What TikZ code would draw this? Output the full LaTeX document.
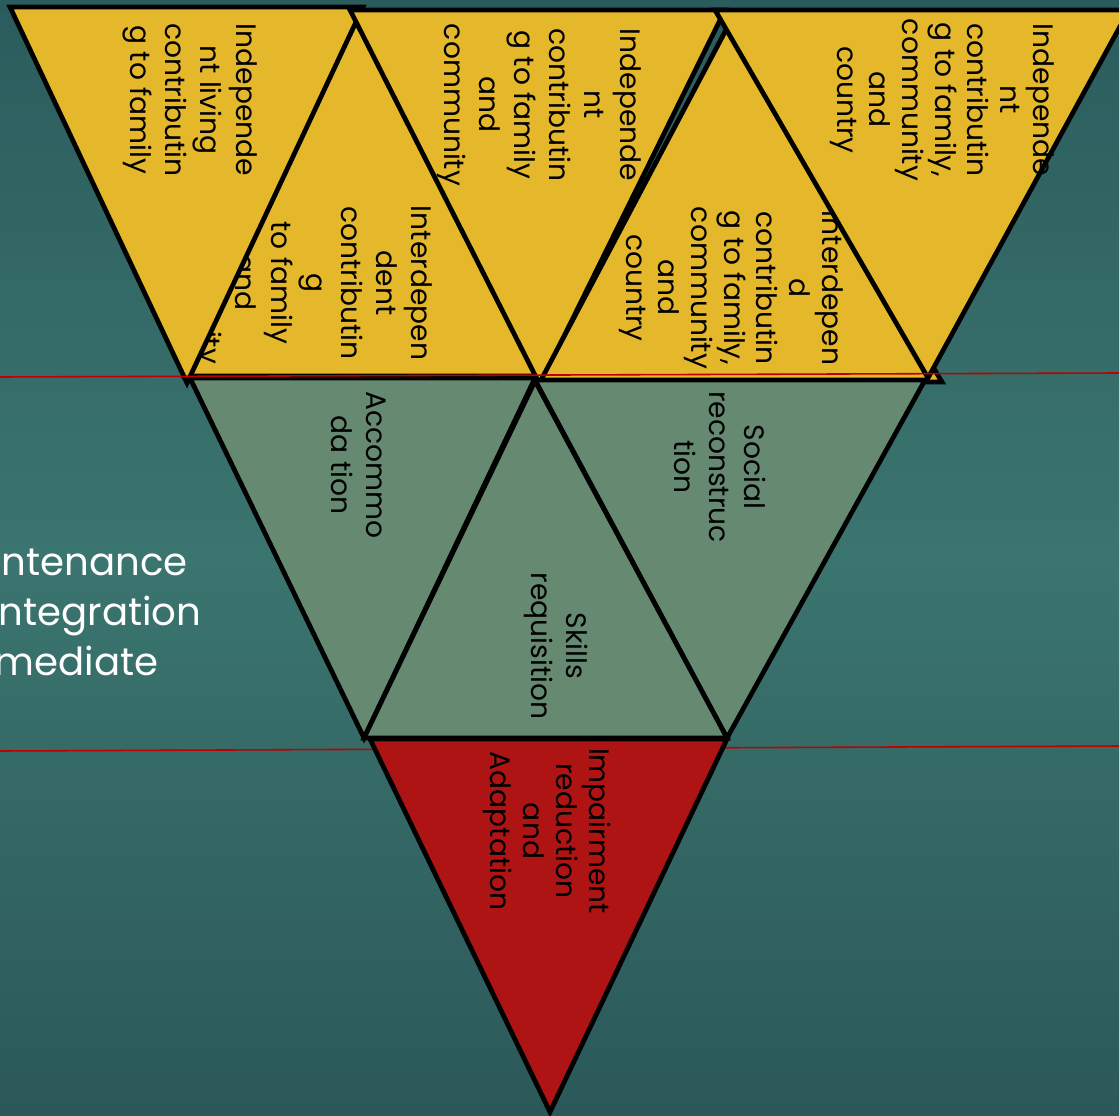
\documentclass[tikz,border=0pt]{standalone}
\usepackage{fontspec}
\setmainfont{Poppins}
\definecolor{bgtop}{HTML}{2B5C5D}
\definecolor{bgmid}{HTML}{3B756F}
\definecolor{bgbot}{HTML}{2B5859}
\definecolor{tryellow}{HTML}{E5B82B}
\definecolor{trgreen}{HTML}{668A71}
\definecolor{trred}{HTML}{AE1414}
\definecolor{guidered}{HTML}{C00000}
\def\mylw{1.35pt}
\tikzset{
  my tri/.style={
    draw=black,
    line width=\mylw,
    line join=miter
  },
  my yellow/.style={my tri, fill=tryellow},
  my green/.style={my tri, fill=trgreen},
  my red/.style={my tri, fill=trred},
  my text/.style={
    rotate=-90,
    align=center,
    inner sep=0mm,
    text=black,
    font=\fontsize{8}{10}\selectfont
  },
  my text tight/.style={
    my text,
    font=\fontsize{8}{9.3}\selectfont
  },
  my guide/.style={
    draw=guidered,
    line width=0.45pt
  },
  my side text/.style={
    anchor=base west,
    inner sep=0mm,
    text=white,
    font=\fontsize{11}{14}\selectfont
  }
}

\begin{document}
\begin{tikzpicture}[x=0.01cm,y=-0.01cm]
\useasboundingbox (0,0) rectangle (1119,1116);
\clip (0,0) rectangle (1119,1116);
\shade[top color=bgtop, bottom color=bgbot, middle color=bgmid]
  (0,0) rectangle (1119,1116);

% lower guide line, behind the red triangle
\draw[my guide] (0,751) -- (1119,746);

% top row
\draw[my yellow] (353,14) -- (185,376) -- (537,376) -- cycle;
\node[my text] (t2) at (313,283)
  {Interdepen\\dent\\contributin\\g\\to family\\and\\community};
\draw[my yellow] (10,7) -- (363,7) -- (187,383) -- cycle;
\node[my text] (t1) at (190,100)
  {Independe\\nt living\\contributin\\g to family};
\draw[my yellow] (350,10) -- (725,10) -- (540,385) -- cycle;
\node[my text] (t3) at (539,105)
  {Independe\\nt\\contributin\\g to family\\and\\community};
\draw[my yellow] (727,28) -- (540,382) -- (942,382) -- cycle;
\node[my text tight] (t4) at (731,288)
  {Interdepen\\d\\contributin\\g to family,\\community\\and\\country};
\draw[my yellow] (715,10) -- (1129,10) -- (928,378) -- cycle;
\node[my text tight] (t5) at (942,100)
  {Independe\\nt\\contributin\\g to family,\\community\\and\\country};

% middle row
\draw[my green] (190,378) -- (535,378) -- (364,738) -- cycle;
\node[my text] (g1) at (359,465) {Accommo\\da tion};
\draw[my green] (535,380) -- (925,380) -- (727,738) -- cycle;
\node[my text] (g3) at (720,467) {Social\\reconstruc\\tion};
\draw[my green] (535,381) -- (364,738) -- (727,738) -- cycle;
\node[my text] (g2) at (556,646) {Skills\\requisition};

% bottom
\draw[my red] (370,739) -- (727,739) -- (550,1112) -- cycle;
\node[my text tight] (r1) at (547,831)
  {Impairment\\reduction\\and\\Adaptation};

% upper guide line
\draw[my guide] (0,377) -- (1119,373);

% left labels
\node[my side text] (s1) at (1,575) {ntenance};
\node[my side text] (s2) at (-2,625) {ntegration};
\node[my side text] (s3) at (-6,675) {mediate};
\end{tikzpicture}
\end{document}
